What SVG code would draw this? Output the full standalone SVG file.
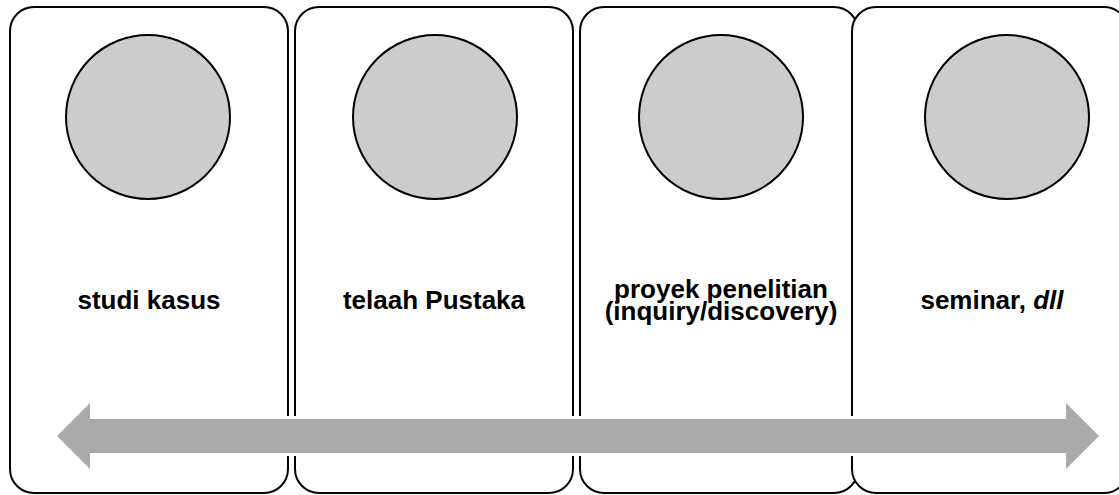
<svg xmlns="http://www.w3.org/2000/svg" width="1119" height="495" viewBox="0 0 1119 495">
<style>
.box{fill:#ffffff;stroke:#000000;stroke-width:2}
.dot{fill:#cccccc;stroke:#000000;stroke-width:2}
.lbl{font-family:"Liberation Sans",Arial,sans-serif;font-weight:bold;font-size:26px;fill:#000000;text-anchor:middle}
.arrow{fill:#aaaaaa;stroke:#ffffff;stroke-width:6;paint-order:stroke;stroke-linejoin:miter}
</style>
<rect width="1119" height="495" fill="#ffffff"/>
<g id="node1">
<rect class="box" x="10" y="7" width="278" height="486" rx="24" ry="24"/>
<circle class="dot" cx="148" cy="117" r="82"/>
<text class="lbl" x="149" y="309">studi kasus</text>
</g>
<g id="node2">
<rect class="box" x="295" y="7" width="278" height="486" rx="24" ry="24"/>
<circle class="dot" cx="435" cy="117" r="82"/>
<text class="lbl" x="434" y="309">telaah Pustaka</text>
</g>
<g id="node3">
<rect class="box" x="580" y="7" width="278" height="486" rx="24" ry="24"/>
<circle class="dot" cx="721" cy="117" r="82"/>
<text class="lbl" x="721" y="298">proyek penelitian</text>
<text class="lbl" x="721" y="320">(inquiry/discovery)</text>
</g>
<g id="node4">
<rect class="box" x="852" y="7" width="276" height="486" rx="24" ry="24"/>
<circle class="dot" cx="1007" cy="117" r="82"/>
<text class="lbl" x="992" y="309">seminar, <tspan font-style="italic">dll</tspan></text>
</g>
<g id="connectors">
<polygon class="arrow" points="57,436 90,403 90,419 1066,419 1066,403 1099,436 1066,469 1066,453 90,453 90,469"/>
</g>
</svg>
